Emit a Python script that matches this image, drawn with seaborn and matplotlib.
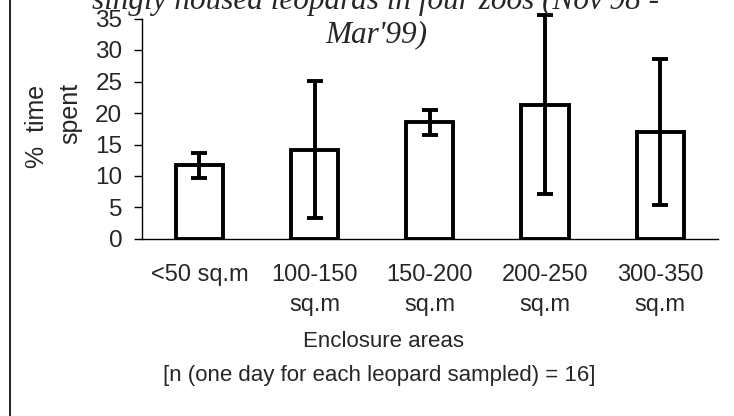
import matplotlib
matplotlib.use("Agg")
import matplotlib.pyplot as plt
import seaborn as sns
import pandas as pd
from matplotlib.lines import Line2D

categories = ["<50 sq.m", "100-150\nsq.m", "150-200\nsq.m", "200-250\nsq.m", "300-350\nsq.m"]
values = [11.7, 14.2, 18.5, 21.3, 17.0]
errors = [2.0, 10.9, 1.95, 14.2, 11.6]
yticks = [0, 5, 10, 15, 20, 25, 30, 35]

sns.set_theme(style="white")
plt.rcParams["font.family"] = ["Liberation Sans", "DejaVu Sans"]

W, H = 734, 416
fig = plt.figure(figsize=(W / 100, H / 100), dpi=100)
ax = fig.add_axes([141.7 / W, 1 - 239 / H, (718 - 141.7) / W, (239 - 18.5) / H])

df = pd.DataFrame({"cat": categories, "val": values})
sns.barplot(data=df, x="cat", y="val", ax=ax, color="white", edgecolor="black",
            linewidth=2.8, width=0.41, errorbar=None, saturation=1)
ax.errorbar(range(len(values)), values, yerr=errors, fmt="none", ecolor="black",
            elinewidth=2.8, capsize=6, capthick=2.8, clip_on=False, zorder=5)

ax.set_xlim(-0.5, len(categories) - 0.5)
ax.set_ylim(0, 35)
ax.set_yticks(yticks)
ax.set_yticklabels([str(t) for t in yticks], fontsize=17.5)

ax.set_xticks([i - 0.5 for i in range(len(categories) + 1)])
ax.set_xticklabels([""] * (len(categories) + 1))
ax.set_xticks(range(len(categories)), minor=True)
ax.set_xticklabels(categories, minor=True, fontsize=17, linespacing=1.45)
ax.tick_params(axis="x", which="major", direction="out", length=6, width=1, color="black")
ax.tick_params(axis="x", which="minor", length=0, pad=18)
ax.tick_params(axis="y", direction="out", length=6, width=1, color="black", pad=8, left=True)
ax.set_xlabel("")
ax.set_ylabel("")

for s in ["top", "right"]:
    ax.spines[s].set_visible(False)
for s in ["left", "bottom"]:
    ax.spines[s].set_color("black")
    ax.spines[s].set_linewidth(1)

# y label (two rotated lines)
fig.text(37.5 / W, 1 - 126 / H, "%  time", rotation=90, ha="center", va="center", fontsize=18)
fig.text(70 / W, 1 - 113 / H, "spent", rotation=90, ha="center", va="center", fontsize=18)

# x label and note
fig.text(384 / W, 1 - 347 / H, "Enclosure areas", ha="center", va="baseline", fontsize=16)
fig.text(379 / W, 1 - 381 / H, "[n (one day for each leopard sampled) = 16]",
         ha="center", va="baseline", fontsize=16)

# title (partly cut off at top, as in the reference)
tfont = dict(family=["Liberation Serif", "DejaVu Serif"], style="italic", fontsize=22.5)
fig.text(375 / W, 1 - 9 / H, "singly housed leopards in four zoos (Nov'98 -",
         ha="center", va="baseline", **tfont)
fig.text(376 / W, 1 - 42 / H, "Mar'99)", ha="center", va="baseline", **tfont)

# figure frame left edge
fig.add_artist(Line2D([10 / W, 10 / W], [0, 1], transform=fig.transFigure,
                      color="black", linewidth=1.2))

fig.savefig("out.png", dpi=100)
